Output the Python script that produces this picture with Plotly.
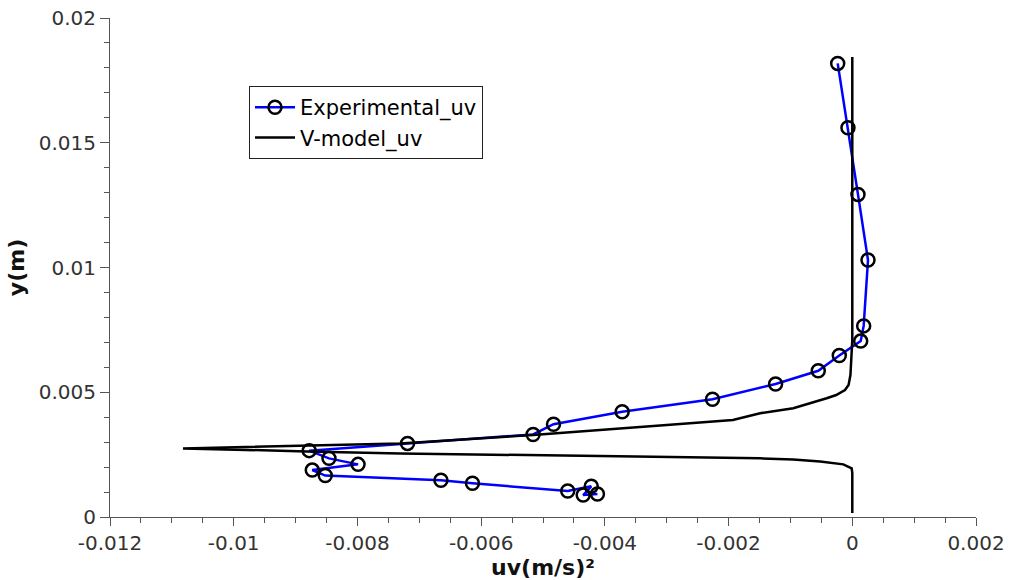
import plotly.graph_objects as go

# Experimental data (uv, y)
exp_uv = [-0.000236, -0.00007, 0.000092, 0.000254, 0.000184, 0.000136, -0.00021, -0.00055,
          -0.00124, -0.00226, -0.00372, -0.00483, -0.00516, -0.00719, -0.00878, -0.00846,
          -0.00799, -0.00873, -0.00852, -0.00665, -0.00614, -0.0046, -0.00422, -0.00435, -0.00412]
exp_y = [0.01818, 0.0156, 0.01293, 0.0103, 0.00766, 0.00705, 0.00647, 0.00586,
         0.00533, 0.00472, 0.00422, 0.00372, 0.00331, 0.00295, 0.00266, 0.00235,
         0.00211, 0.00188, 0.00166, 0.00147, 0.00135, 0.00104, 0.00123, 0.00088, 0.00092]

# V-model data (uv, y)
model_uv = [0.0, 0.0, -0.00003, -0.00006, -0.000118, -0.00026, -0.000414, -0.000954, -0.00149,
            -0.00193, -0.0030, -0.00408, -0.00516, -0.00731, -0.00882, -0.01082,
            -0.00882, -0.00731, -0.00408, -0.00149, -0.000954, -0.00052, -0.000145, -0.00001,
            0.0, 0.0]
model_y = [0.01844, 0.00709, 0.00569, 0.00529, 0.00509, 0.00489, 0.00476, 0.00436, 0.00416,
           0.00389, 0.00369, 0.00349, 0.00329, 0.00295, 0.00287, 0.00275,
           0.00263, 0.00255, 0.00244, 0.00235, 0.0023, 0.00222, 0.00211, 0.00195,
           0.00176, 0.00016]

x_tickvals = [-0.012, -0.01, -0.008, -0.006, -0.004, -0.002, 0, 0.002]
x_ticktext = ["-0.012", "-0.01", "-0.008", "-0.006", "-0.004", "-0.002", "0", "0.002"]
y_tickvals = [0, 0.005, 0.01, 0.015, 0.02]
y_ticktext = ["0", "0.005", "0.01", "0.015", "0.02"]

fig = go.Figure()
fig.add_trace(go.Scatter(
    x=exp_uv, y=exp_y, mode="lines+markers", name="Experimental_uv",
    line=dict(color="#0000ff", width=2.5),
    marker=dict(symbol="circle-open", size=13, color="black", line=dict(width=2.5, color="black")),
))
fig.add_trace(go.Scatter(
    x=model_uv, y=model_y, mode="lines", name="V-model_uv",
    line=dict(color="black", width=2.5),
))

font_family = "DejaVu Sans"
axis_color = "#555555"
fig.update_layout(
    width=1013, height=580,
    margin=dict(l=110, r=37, t=18, b=63, autoexpand=False),
    plot_bgcolor="white", paper_bgcolor="white",
    font=dict(family=font_family, size=20, color="#333333"),
    showlegend=True,
    legend=dict(x=0.1605, y=0.8637, xanchor="left", yanchor="top",
                bordercolor="#222222", borderwidth=1, bgcolor="white",
                font=dict(family=font_family, size=21, color="black"),
                tracegroupgap=0, itemwidth=40),
    xaxis=dict(
        range=[-0.012, 0.002], tickmode="array", tickvals=x_tickvals, ticktext=x_ticktext,
        automargin=False,
        showgrid=False, zeroline=False, showline=True, linecolor=axis_color, linewidth=1,
        ticks="outside", ticklen=8, tickcolor=axis_color,
        minor=dict(dtick=0.0005, tick0=0, ticks="outside", ticklen=5, tickcolor=axis_color, showgrid=False),
        title=dict(text="<b>uv(m/s)²</b>", font=dict(family=font_family, size=22, color="#111111"), standoff=0),
        tickfont=dict(family=font_family, size=20, color="#333333"),
    ),
    yaxis=dict(
        range=[0, 0.02], tickmode="array", tickvals=y_tickvals, ticktext=y_ticktext,
        automargin=False,
        showgrid=False, zeroline=False, showline=True, linecolor=axis_color, linewidth=1,
        ticks="outside", ticklen=9, tickcolor=axis_color,
        minor=dict(dtick=0.001, tick0=0, ticks="outside", ticklen=5, tickcolor=axis_color, showgrid=False),
        title=dict(text="<b>y(m)</b>", font=dict(family=font_family, size=22, color="#111111"), standoff=8),
        tickfont=dict(family=font_family, size=20, color="#333333"),
    ),
)

fig.write_html("out.html")
